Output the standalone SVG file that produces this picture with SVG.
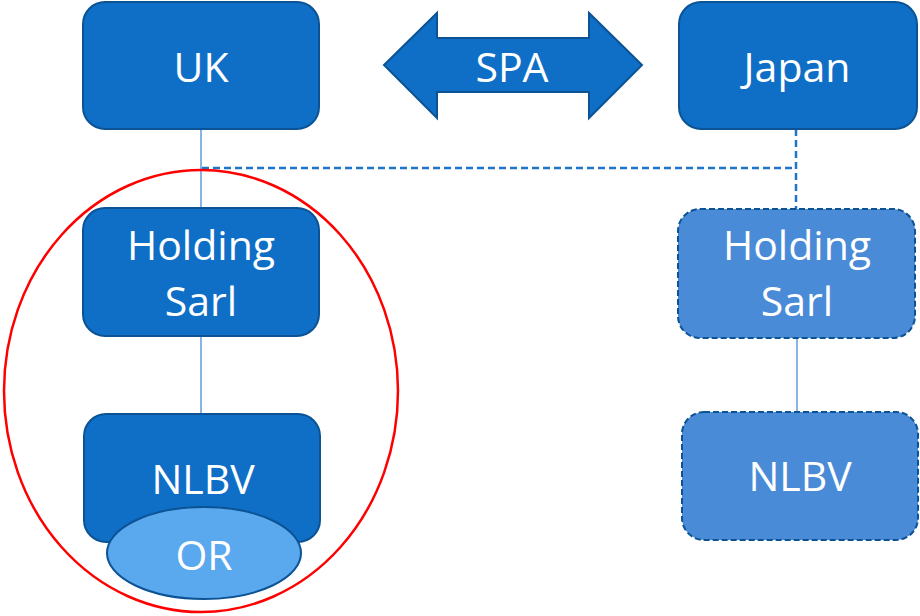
<svg xmlns="http://www.w3.org/2000/svg" width="920" height="616" viewBox="0 0 920 616">
<style>
.box{fill:#0F6FC6;stroke:#0B5394;stroke-width:2}
.lbox{fill:#4A8BD8;stroke:#0B5394;stroke-width:2;stroke-dasharray:6 3}
.t{font-family:"Open Sans","Liberation Sans",sans-serif;font-size:41px;fill:#fff;text-anchor:middle}
.ln{stroke:#4A8BD8;stroke-width:1.3;fill:none}
.dl{stroke:#1E74C8;stroke-width:2.5;stroke-dasharray:7 4;fill:none}
</style>
<rect width="920" height="616" fill="#fff"/>
<g id="connectors">
<line class="ln" x1="201" y1="129" x2="201" y2="208"/>
<line class="ln" x1="201" y1="336" x2="201" y2="414"/>
<line class="ln" x1="797" y1="338" x2="797" y2="412"/>
<polyline class="dl" points="202,168 796,168"/>
<line class="dl" x1="796" y1="129" x2="796" y2="209"/>
</g>
<g id="uk"><rect class="box" x="83" y="2" width="236" height="127" rx="22"/><text class="t" x="201" y="82">UK</text></g>
<g id="spa"><polygon class="box" points="384,65 437,13 437,38 589,38 589,13 642,65 589,118 589,92 437,92 437,118"/><text class="t" x="512" y="82">SPA</text></g>
<g id="japan"><rect class="box" x="679" y="2" width="238" height="127" rx="22"/><text class="t" x="797" y="82">Japan</text></g>
<g id="holding-left"><rect class="box" x="83" y="208" width="236" height="128" rx="22"/><text class="t" x="201" y="260">Holding</text><text class="t" x="201" y="316">Sarl</text></g>
<g id="nlbv-left"><rect class="box" x="84" y="414" width="236" height="128" rx="22"/><text class="t" x="203" y="494">NLBV</text></g>
<g id="or"><ellipse cx="204" cy="553" rx="97" ry="46" fill="#5AA8EE" stroke="#0B5394" stroke-width="2"/><text class="t" x="204" y="570">OR</text></g>
<g id="holding-right"><rect class="lbox" x="678" y="209" width="237" height="129" rx="22"/><text class="t" x="797" y="260">Holding</text><text class="t" x="797" y="316">Sarl</text></g>
<g id="nlbv-right"><rect class="lbox" x="682" y="412" width="236" height="128" rx="22"/><text class="t" x="800" y="491">NLBV</text></g>
<g id="group-circle"><ellipse cx="201" cy="391" rx="197" ry="221" fill="none" stroke="#FF0000" stroke-width="2.5"/></g>
</svg>
